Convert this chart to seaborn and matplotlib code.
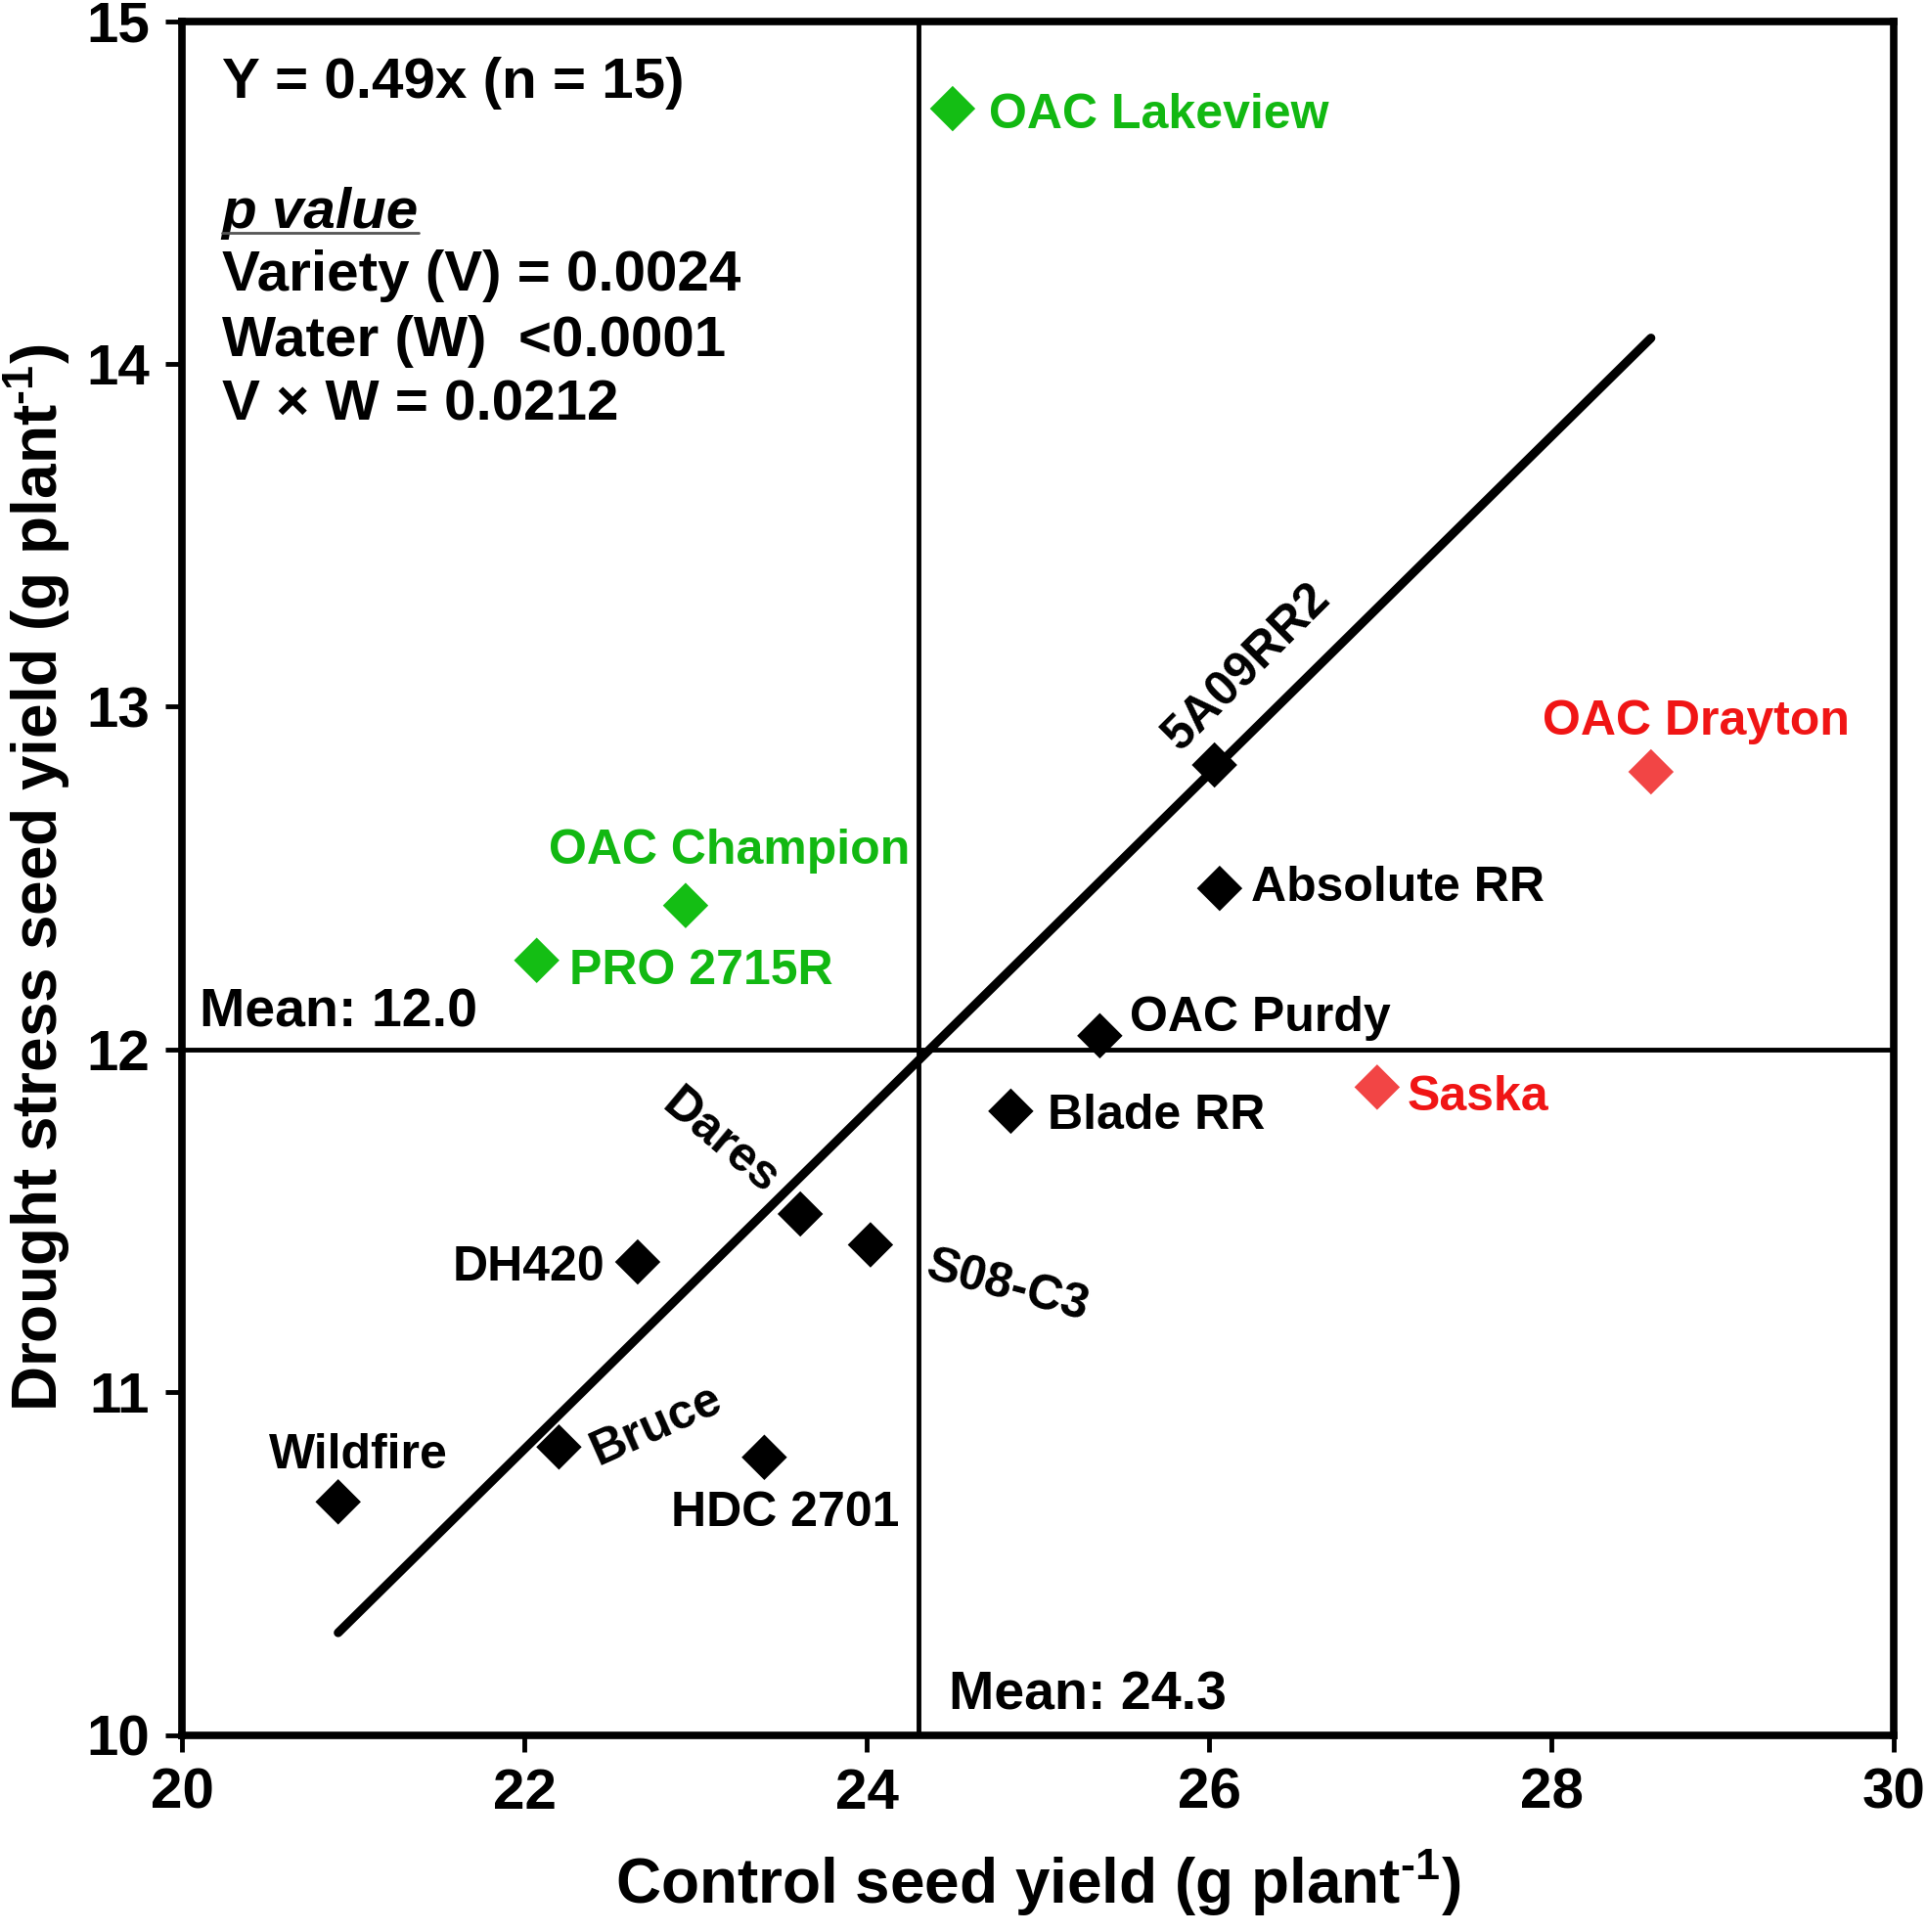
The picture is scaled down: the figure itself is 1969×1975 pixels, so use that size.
import numpy as np
import pandas as pd
import matplotlib
matplotlib.use('Agg')
import matplotlib.pyplot as plt
import seaborn as sns

# data
variety = ['OAC Lakeview', 'OAC Drayton', 'Saska', 'OAC Champion', 'PRO 2715R',
           '5A09RR2', 'Absolute RR', 'OAC Purdy', 'Blade RR', 'Dares',
           'S08-C3', 'DH420', 'Bruce', 'HDC 2701', 'Wildfire']
control = [24.50, 28.58, 26.98, 22.94, 22.07,
           26.03, 26.06, 25.36, 24.84, 23.61,
           24.02, 22.66, 22.20, 23.40, 20.91]
drought = [14.745, 12.81, 11.89, 12.42, 12.26,
           12.83, 12.47, 12.04, 11.82, 11.52,
           11.43, 11.38, 10.84, 10.81, 10.68]
group = ['tolerant', 'sensitive', 'sensitive', 'tolerant', 'tolerant'] + ['other'] * 10

slope = 0.4925
mean_control = 24.3
mean_drought = 12.0

xticks = [20, 22, 24, 26, 28, 30]
yticks = [10, 11, 12, 13, 14, 15]

stats_lines = ['Variety (V) = 0.0024', 'Water (W)  <0.0001', 'V \u00d7 W = 0.0212']

# label placement: offset in points, alignment, rotation
label_pos = {
    'OAC Lakeview': (27, -5, 'left', 0),
    'OAC Drayton': (33, 37, 'center', 0),
    'Saska': (22, -8, 'left', 0),
    'OAC Champion': (32, 40, 'center', 0),
    'PRO 2715R': (24, -8, 'left', 0),
    '5A09RR2': (24, 72, 'center', 45),
    'Absolute RR': (23, 0, 'left', 0),
    'OAC Purdy': (22, 13, 'left', 0),
    'Blade RR': (27, -4, 'left', 0),
    'Dares': (-59, 53, 'center', -40),
    'S08-C3': (101, -31, 'center', -15),
    'DH420': (-24, -4, 'right', 0),
    'Bruce': (72, 16, 'center', 24),
    'HDC 2701': (15, -41, 'center', 0),
    'Wildfire': (15, 34, 'center', 0),
}

marker_col = {'tolerant': '#14BE14', 'sensitive': '#F24545', 'other': 'black'}
text_col = {'tolerant': '#12B812', 'sensitive': '#F01515', 'other': 'black'}

df = pd.DataFrame({'variety': variety, 'control': control,
                   'drought': drought, 'group': group})

sns.set_style('ticks')
plt.rcParams['font.family'] = ['Liberation Sans', 'DejaVu Sans']
plt.rcParams['font.weight'] = 'bold'
plt.rcParams['mathtext.fontset'] = 'custom'
plt.rcParams['mathtext.rm'] = 'Liberation Sans:bold'
plt.rcParams['mathtext.bf'] = 'Liberation Sans:bold'
plt.rcParams['mathtext.it'] = 'Liberation Sans:italic:bold'
for k in ['text.color', 'axes.labelcolor', 'xtick.color', 'ytick.color', 'axes.edgecolor']:
    plt.rcParams[k] = 'black'

fig = plt.figure(figsize=(19.69, 19.75), dpi=100)
ax = fig.add_axes([0.0947, 0.102, 0.8887, 0.887])

# mean lines
ax.axvline(mean_control, color='black', lw=3.5, zorder=1)
ax.axhline(mean_drought, color='black', lw=3.5, zorder=1)

# regression line over the data range
xr = np.array([df['control'].min(), df['control'].max()])
sns.lineplot(x=xr, y=slope * xr, color='black', lw=6.5, ax=ax, zorder=2)

sns.scatterplot(data=df, x='control', y='drought', hue='group', palette=marker_col,
                marker='D', s=560, edgecolor='none', legend=False, ax=ax, zorder=3)

for v, x, y, g in zip(variety, control, drought, group):
    dx, dy, ha, rot = label_pos[v]
    ax.annotate(v, (x, y), xytext=(dx, dy), textcoords='offset points',
                ha=ha, va='center', rotation=rot, rotation_mode='anchor',
                fontsize=36, fontweight='bold', color=text_col[g])

# text block
ax.text(20.23, 14.82, 'Y = 0.49x (n = 15)', fontsize=42, fontweight='bold', va='center')
pv = ax.text(20.23, 14.44, 'p value', fontsize=42, fontweight='bold', style='italic', va='center')
for i, s in enumerate(stats_lines):
    ax.text(20.23, 14.256 - 0.189 * i, s, fontsize=42, fontweight='bold', va='center')

ax.text(20.10, 12.106, 'Mean: %.1f' % mean_drought, fontsize=40, fontweight='bold', va='center')
ax.text(24.48, 10.115, 'Mean: %.1f' % mean_control, fontsize=40, fontweight='bold', va='center')

ax.set_xlim(20, 30)
ax.set_ylim(10, 15)
ax.set_xticks(xticks)
ax.set_yticks(yticks)
ax.tick_params(axis='both', direction='out', length=12, width=3.5, labelsize=42, pad=12)
for lab in ax.get_xticklabels() + ax.get_yticklabels():
    lab.set_fontweight('bold')

for sp in ax.spines.values():
    sp.set_linewidth(5.5)
    sp.set_visible(True)

ax.set_xlabel(r'Control seed yield (g plant$^{\text{-1}}$)', fontsize=46, fontweight='bold', labelpad=20)
ax.set_ylabel(r'Drought stress seed yield (g plant$^{\text{-1}}$)', fontsize=46, fontweight='bold', labelpad=10)

# underline under "p value"
renderer = fig.canvas.get_renderer()
bb = pv.get_window_extent(renderer).transformed(fig.transFigure.inverted())
uy = bb.y0 + 0.12 * bb.height
fig.add_artist(plt.Line2D([bb.x0, bb.x1], [uy, uy], color='#555555', lw=2))

fig.savefig('out.png', dpi=100)
